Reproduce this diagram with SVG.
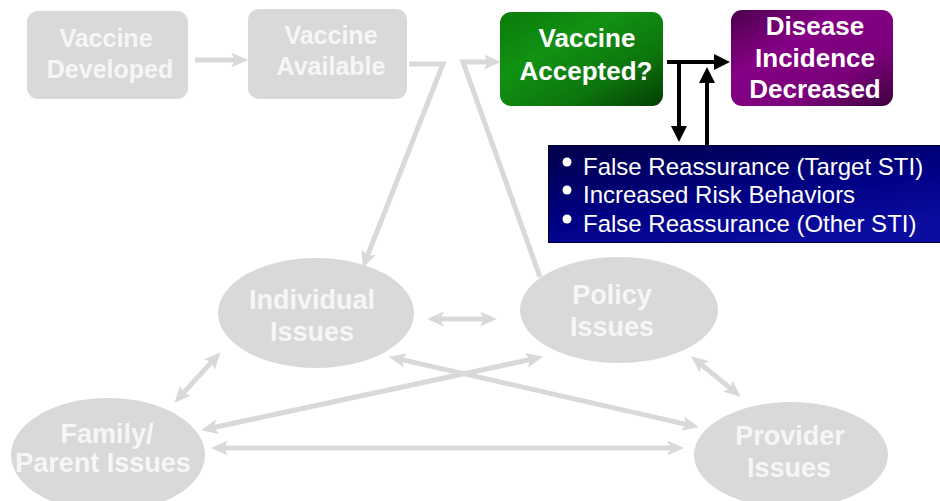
<svg xmlns="http://www.w3.org/2000/svg" width="940" height="501" viewBox="0 0 940 501">
<defs>
<style>
.gbox{fill:#d9d9d9}
.gt{font-family:"Liberation Sans",Arial,sans-serif;font-weight:bold;font-size:25px;fill:#f6f6f6;text-anchor:middle}
.et{font-family:"Liberation Sans",Arial,sans-serif;font-weight:bold;font-size:27px;fill:#f6f6f6;text-anchor:middle}
.wt{font-family:"Liberation Sans",Arial,sans-serif;font-weight:bold;font-size:26px;fill:#ffffff;text-anchor:middle}
.bt{font-family:"Liberation Sans",Arial,sans-serif;font-size:24px;fill:#ffffff}
.gl{fill:none;stroke:#d9d9d9;stroke-width:5;marker-end:url(#ga)}
.gd{fill:none;stroke:#d9d9d9;stroke-width:5;marker-start:url(#ga);marker-end:url(#ga)}
.bl{fill:none;stroke:#000;stroke-width:4;marker-end:url(#ba)}
</style>
<marker id="ga" markerUnits="userSpaceOnUse" markerWidth="17" markerHeight="15" refX="5" refY="7.5" orient="auto-start-reverse">
<path d="M0,0 L17,7.5 L0,15 L4,7.5 z" fill="#d9d9d9"/>
</marker>
<marker id="ba" markerUnits="userSpaceOnUse" markerWidth="16" markerHeight="16" refX="2" refY="8" orient="auto">
<path d="M0,0 L16,8 L0,16 z" fill="#000"/>
</marker>
<linearGradient id="green" x1="0" y1="0" x2="1" y2="1">
<stop offset="0" stop-color="#0a7a0a"/>
<stop offset="0.35" stop-color="#129212"/>
<stop offset="0.7" stop-color="#0c740c"/>
<stop offset="1" stop-color="#053d05"/>
</linearGradient>
<linearGradient id="purple" x1="0" y1="0" x2="1" y2="1">
<stop offset="0" stop-color="#4c004c"/>
<stop offset="0.35" stop-color="#850085"/>
<stop offset="0.7" stop-color="#7a007a"/>
<stop offset="1" stop-color="#3e003e"/>
</linearGradient>
<linearGradient id="navy" x1="0" y1="0" x2="0.6" y2="1">
<stop offset="0" stop-color="#000048"/>
<stop offset="0.6" stop-color="#000085"/>
<stop offset="1" stop-color="#0c0ca0"/>
</linearGradient>
</defs>

<g id="connectors">
<line class="gl" x1="195" y1="60" x2="236" y2="60"/>
<polyline class="gl" points="409,64 443,64 367,256.8"/>
<polyline class="gl" points="540,277 463,62 489,62"/>
<line class="gd" x1="439" y1="319" x2="485" y2="319"/>
<line class="gd" x1="212.5" y1="361.1" x2="182.5" y2="393.9"/>
<line class="gd" x1="400.7" y1="359.4" x2="687.3" y2="424.6"/>
<line class="gd" x1="531.2" y1="359.3" x2="212.8" y2="427.7"/>
<line class="gd" x1="700.5" y1="363.9" x2="731.5" y2="389.1"/>
<line class="gd" x1="223" y1="448" x2="672" y2="448"/>
<line class="bl" x1="667" y1="62" x2="716" y2="62"/>
<line class="bl" x1="679" y1="62" x2="679" y2="128"/>
<line class="bl" x1="707" y1="145" x2="707" y2="81"/>
</g>

<g id="vaccine-developed">
<rect class="gbox" x="27" y="11" width="161" height="88" rx="11"/>
<text class="gt" x="106" y="47">Vaccine</text>
<text class="gt" x="110" y="78">Developed</text>
</g>

<g id="vaccine-available">
<rect class="gbox" x="248" y="9" width="159" height="90" rx="11"/>
<text class="gt" x="331" y="44">Vaccine</text>
<text class="gt" x="331" y="75">Available</text>
</g>

<g id="vaccine-accepted">
<rect x="500" y="12" width="163" height="94" rx="11" fill="url(#green)"/>
<text class="wt" x="587" y="47">Vaccine</text>
<text class="wt" x="586" y="80">Accepted?</text>
</g>

<g id="disease-incidence">
<rect x="731" y="10" width="162" height="96" rx="11" fill="url(#purple)"/>
<text class="wt" x="815" y="35">Disease</text>
<text class="wt" x="815" y="67">Incidence</text>
<text class="wt" x="815" y="98">Decreased</text>
</g>

<g id="risks">
<rect x="548.5" y="145.5" width="400" height="97" fill="url(#navy)" stroke="#000030" stroke-width="1"/>
<circle cx="567" cy="162" r="4.5" fill="#fff"/>
<circle cx="567" cy="190" r="4.5" fill="#fff"/>
<circle cx="567" cy="219" r="4.5" fill="#fff"/>
<text class="bt" x="583" y="175">False Reassurance (Target STI)</text>
<text class="bt" x="583" y="203">Increased Risk Behaviors</text>
<text class="bt" x="583" y="232">False Reassurance (Other STI)</text>
</g>

<g id="individual-issues">
<ellipse class="gbox" cx="316" cy="313" rx="98" ry="55"/>
<text class="et" x="312" y="309">Individual</text>
<text class="et" x="312" y="341">Issues</text>
</g>

<g id="policy-issues">
<ellipse class="gbox" cx="619" cy="310" rx="99" ry="53"/>
<text class="et" x="612" y="304">Policy</text>
<text class="et" x="612" y="336">Issues</text>
</g>

<g id="family-parent-issues">
<ellipse class="gbox" cx="108" cy="455" rx="97" ry="57"/>
<text class="et" x="107" y="443">Family/</text>
<text class="et" x="103" y="472">Parent Issues</text>
</g>

<g id="provider-issues">
<ellipse class="gbox" cx="791" cy="455" rx="97" ry="53"/>
<text class="et" x="790" y="445">Provider</text>
<text class="et" x="789" y="477">Issues</text>
</g>
</svg>
